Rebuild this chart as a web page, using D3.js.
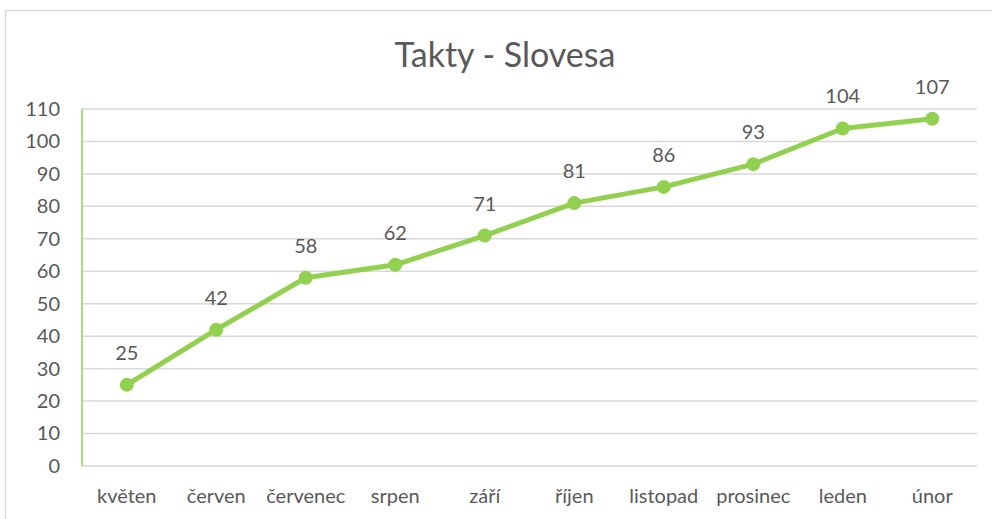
<!DOCTYPE html>
<html>
<head>
<meta charset="utf-8">
<script src="https://cdn.jsdelivr.net/npm/d3@7"></script>
<style>
  html, body { margin: 0; padding: 0; background: #fff; }
  svg { display: block; }
  text { font-family: Lato, "Open Sans", sans-serif; fill: #595959; }
</style>
</head>
<body>
<svg id="chart" width="992" height="519"></svg>
<script>
const categories = ["květen", "červen", "červenec", "srpen", "září", "říjen", "listopad", "prosinec", "leden", "únor"];
const values = [25, 42, 58, 62, 71, 81, 86, 93, 104, 107];
const yTicks = [0, 10, 20, 30, 40, 50, 60, 70, 80, 90, 100, 110];
const title = "Takty - Slovesa";

const svg = d3.select("#chart");
const W = 992, H = 519;
const margin = { left: 82, right: 15, top: 109, bottom: 53 };

// chart border
svg.append("rect")
  .attr("x", 5.5).attr("y", 10.5)
  .attr("width", W + 20).attr("height", H + 20)
  .attr("fill", "none").attr("stroke", "#d9d9d9").attr("stroke-width", 1.5);

const x = d3.scaleBand().domain(categories).range([margin.left, W - margin.right]);
const y = d3.scaleLinear().domain([0, 110]).range([H - margin.bottom, margin.top]);

// gridlines
svg.append("g").selectAll("line").data(yTicks).join("line")
  .attr("x1", margin.left).attr("x2", W - margin.right)
  .attr("y1", d => y(d)).attr("y2", d => y(d))
  .attr("stroke", "#d9d9d9").attr("stroke-width", 1.5);

// y axis line (green)
svg.append("line")
  .attr("x1", margin.left).attr("x2", margin.left)
  .attr("y1", y(0)).attr("y2", y(110))
  .attr("stroke", "#92d050").attr("stroke-width", 1.5);

// y axis labels
const yAxis = d3.axisLeft(y).tickValues(yTicks).tickSize(0).tickPadding(22);
const gy = svg.append("g").attr("transform", `translate(${margin.left},0)`).call(yAxis);
gy.select(".domain").remove();
gy.selectAll("text").style("font-size", "20px").style("font-family", "Lato, sans-serif").attr("fill", "#595959");

// x axis labels
const xAxis = d3.axisBottom(x).tickSize(0).tickPadding(23);
const gx = svg.append("g").attr("transform", `translate(0,${y(0)})`).call(xAxis);
gx.select(".domain").remove();
gx.selectAll("text").style("font-size", "20px").style("font-family", "Lato, sans-serif").attr("fill", "#595959");

// title
svg.append("text")
  .attr("x", 505).attr("y", 67)
  .attr("text-anchor", "middle")
  .style("font-size", "34px")
  .text(title);

const pts = categories.map((c, i) => ({ c, v: values[i] }));
const line = d3.line().x(d => x(d.c) + x.bandwidth() / 2).y(d => y(d.v));

svg.append("path").datum(pts)
  .attr("d", line)
  .attr("fill", "none").attr("stroke", "#92d050")
  .attr("stroke-width", 5).attr("stroke-linejoin", "round").attr("stroke-linecap", "round");

svg.append("g").selectAll("circle").data(pts).join("circle")
  .attr("cx", d => x(d.c) + x.bandwidth() / 2)
  .attr("cy", d => y(d.v))
  .attr("r", 7)
  .attr("fill", "#92d050");

svg.append("g").selectAll("text").data(pts).join("text")
  .attr("x", d => x(d.c) + x.bandwidth() / 2)
  .attr("y", d => y(d.v) - 25)
  .attr("text-anchor", "middle")
  .style("font-size", "20px")
  .text(d => d.v);
</script>
</body>
</html>
